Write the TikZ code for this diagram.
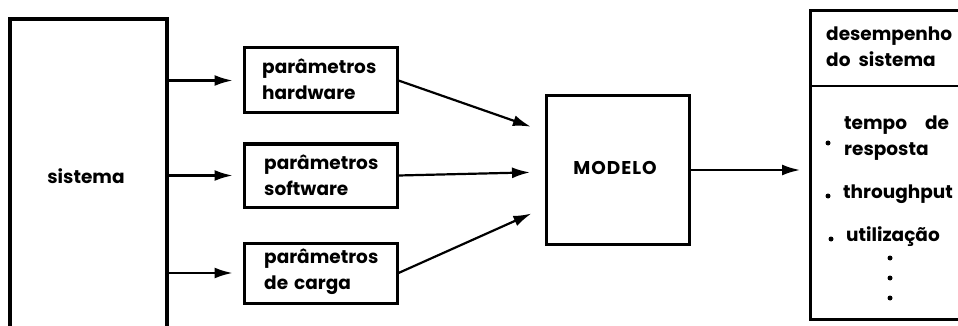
\documentclass[tikz,border=0pt]{standalone}
\usepackage{fontspec}
\setmainfont{Poppins}
\usetikzlibrary{arrows.meta,calc}
\begin{document}
\begin{tikzpicture}[x=1pt,y=-1pt,
  box/.style={draw,line width=3pt,inner sep=0pt},
  conn/.style={line width=2.2pt,-{Latex[length=18pt,width=11pt]},shorten >=10pt},
  txt/.style={font=\fontsize{18.5}{26}\selectfont\bfseries,align=left,anchor=west,inner sep=0pt}]
\useasboundingbox (0,0) rectangle (958,326);
% sistema
\node[inner sep=0pt,minimum width=157pt,minimum height=307pt] (sis) at (88.5,172.5) {};
\draw[line width=3.2pt] (10,330) -- (10,19) -- (167,19) -- (167,330);
\node[txt,anchor=center] (sist) at (86,176) {sistema};
% parameter boxes
\node[box,minimum width=153pt,minimum height=65pt] (hw) at (320.5,80.5) {};
\node[box,minimum width=153pt,minimum height=63pt] (sw) at (320.5,175.5) {};
\node[box,minimum width=153pt,minimum height=60pt] (cg) at (320.5,273) {};
\node[txt] (hwt) at (262,79) {parâmetros\\hardware};
\node[txt] (swt) at (264,175) {parâmetros\\software};
\node[txt] (cgt) at (264,272) {parâmetros\\de\hspace{6pt}carga};
% modelo
\node[box,minimum width=143pt,minimum height=148pt] (mod) at (617.5,170) {};
\node[txt,anchor=center] (modt) at (615,168) {M\hspace{1pt}O\hspace{1pt}D\hspace{1pt}E\hspace{1pt}L\hspace{1pt}O};
% arrows
\draw[conn] (sis.east |- hw.west) -- (hw.west);
\draw[conn] (sis.east |- sw.west) -- (sw.west);
\draw[conn] (sis.east |- cg.west) -- (cg.west);
\coordinate (m1) at (546,132);
\coordinate (m2) at (546,172);
\coordinate (m3) at (546,207);
\draw[conn,shorten >=16pt] (hw.east) -- (m1);
\draw[conn,shorten >=16pt] (sw.east) -- (m2);
\draw[conn,shorten >=16pt] (cg.east) -- (m3);
% desempenho box
\coordinate (dl) at (810,170);
\draw[line width=3pt] (965,11) -- (810,11) -- (810,319) -- (965,319);
\draw[line width=2.4pt] (810,86) -- (965,86);
\draw[conn] (mod.east) -- (dl);
\node[txt] (d1) at (826,47) {desempenho\\do\hspace{8pt}sistema};
\node[txt] (i1) at (844,138) {tempo\hspace{18pt}de\\resposta};
\node[txt] (i2) at (843,194) {throughput};
\node[txt] (i3) at (846,237) {utilização};
\fill (828,143) circle (2.5pt) (828,196) circle (2.5pt) (831,239) circle (2.5pt);
\fill (890,258) circle (2.5pt) (890,278) circle (2.5pt) (890,298) circle (2.5pt);
\end{tikzpicture}
\end{document}
